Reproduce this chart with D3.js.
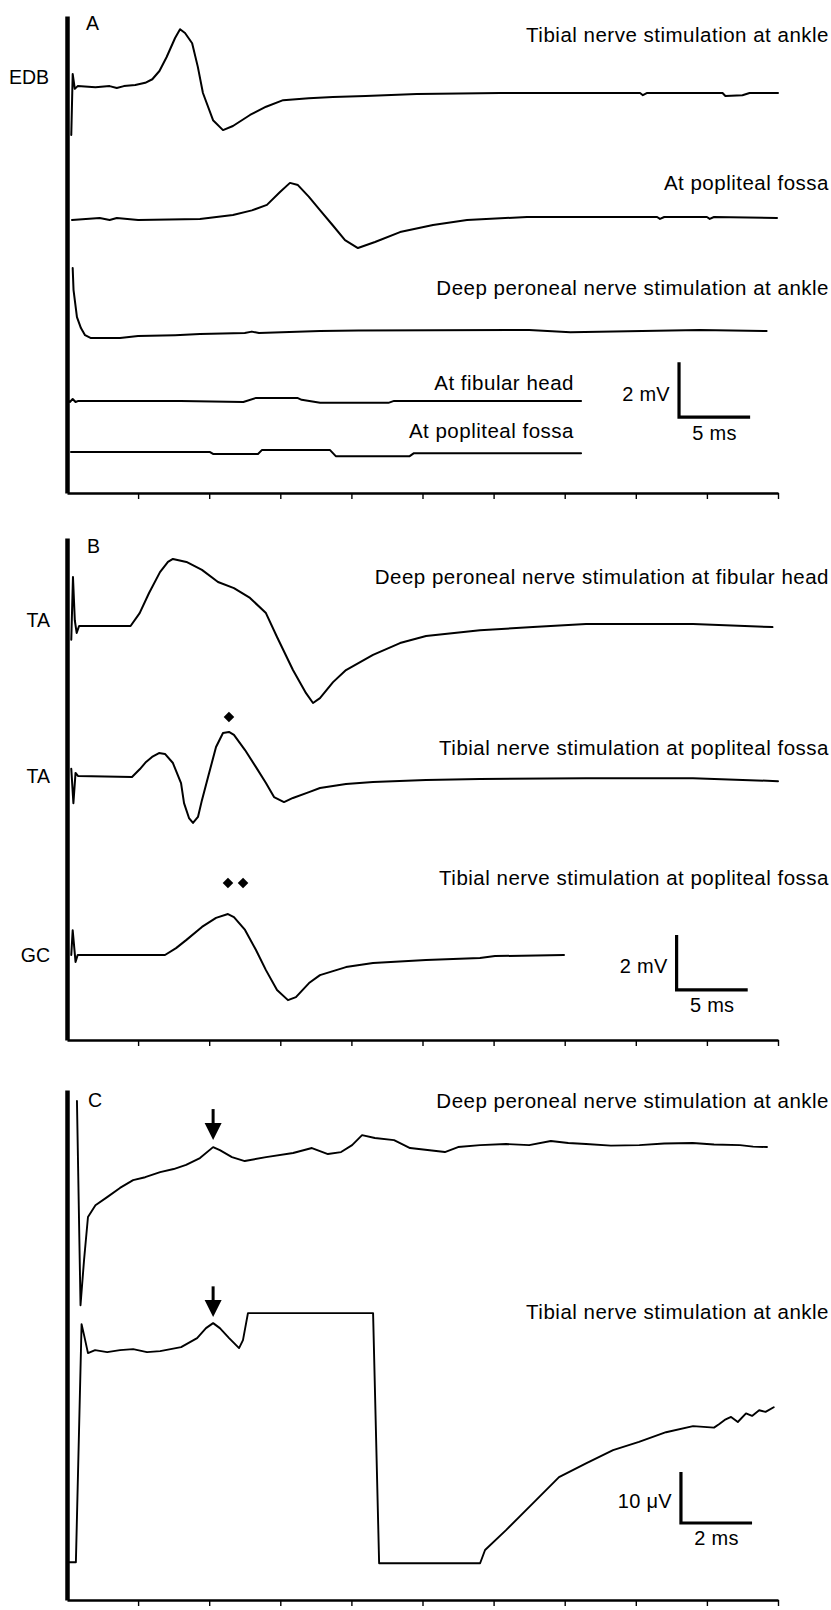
<!DOCTYPE html>
<html><head><meta charset="utf-8">
<script src="https://cdn.jsdelivr.net/npm/d3@7"></script>
<style>
body{margin:0;background:#fff}
svg{display:block}
text{font-family:"Liberation Sans",Arial,Helvetica,sans-serif;fill:#000}
</style>
</head><body>
<svg id="c" width="831" height="1610"></svg>
<script>
// ---------- DATA ----------
const panelLetters = ["A", "B", "C"];
const muscleLabelsA = ["EDB"];
const muscleLabelsB = ["TA", "TA", "GC"];
const traceLabelsA = ["Tibial nerve stimulation at ankle", "At popliteal fossa",
  "Deep peroneal nerve stimulation at ankle", "At fibular head", "At popliteal fossa"];
const traceLabelsB = ["Deep peroneal nerve stimulation at fibular head",
  "Tibial nerve stimulation at popliteal fossa", "Tibial nerve stimulation at popliteal fossa"];
const traceLabelsC = ["Deep peroneal nerve stimulation at ankle", "Tibial nerve stimulation at ankle"];
const scaleLabelsAB = ["2 mV", "5 ms"];
const scaleLabelsC = ["10 \u03BCV", "2 ms"];

// time (ms) and amplitude (mV or µV, relative to trace baseline)
const offsetsA = [14.8, 9.93, 5.89, 3.35, 1.49];     // mV
const offsetsB = [15.05, 9.56, 3.09];                // mV
const offsetsC = [89.4, 49.0];                       // µV

const traceA1 = [[0.30,-1.78],[0.40,0.44],[0.55,-0.10],[0.75,0],[2.0,-0.04],[3.0,0.0],[3.5,-0.07],[4.0,0],[4.8,0.04],[5.5,0.12],[6.0,0.25],[6.5,0.55],[7.0,1.05],[7.6,1.75],[7.95,2.07],[8.3,1.93],[8.8,1.56],[9.2,0.7],[9.56,-0.25],[10.27,-1.24],[10.97,-1.6],[11.67,-1.45],[12.87,-1.05],[14.0,-0.75],[15.2,-0.51],[17.0,-0.44],[18.7,-0.40],[21.0,-0.36],[24.6,-0.29],[30.5,-0.25],[40.3,-0.25],[40.5,-0.33],[40.8,-0.25],[46.1,-0.25],[46.3,-0.36],[47.5,-0.33],[48,-0.25],[50.0,-0.25]];
const traceA2 = [[0.35,0],[2.3,0.07],[3.0,0.0],[3.5,0.07],[5,0],[9.35,0.04],[11.67,0.18],[13.0,0.35],[14.06,0.55],[14.98,1.02],[15.68,1.35],[16.24,1.27],[17.0,0.85],[17.79,0.36],[18.7,-0.2],[19.55,-0.73],[20.46,-1.02],[21.66,-0.8],[23.42,-0.44],[25.74,-0.18],[28.13,0],[32.35,0.11],[37.5,0.11],[41.5,0.11],[41.7,0.04],[42,0.11],[45,0.11],[45.2,0.04],[45.5,0.11],[49.93,0.07]];
const traceA3 = [[0.40,2.29],[0.46,1.49],[0.70,0.51],[0.98,0.11],[1.27,-0.15],[1.65,-0.25],[3.73,-0.25],[5.0,-0.18],[7.6,-0.15],[9.35,-0.11],[12.5,-0.07],[13.0,-0.02],[13.5,-0.07],[17.8,0],[20.5,0.02],[32.5,0.04],[35.4,-0.04],[44.5,0.04],[49.2,0]];
const traceA4 = [[0,0.04],[0.2,-0.04],[0.4,0.07],[0.6,-0.04],[0.8,0],[8,0],[12.4,-0.04],[13.3,0.11],[16.2,0.11],[16.5,0.04],[17.8,-0.07],[22.6,-0.07],[23.0,0],[36.15,0]];
const traceA5 = [[0.28,0],[10.06,0],[10.27,-0.07],[13.43,-0.07],[13.7,0.07],[18.5,0.07],[18.9,-0.15],[24.1,-0.15],[24.4,-0.04],[36.15,-0.04]];

const traceB1 = [[0.30,-0.5],[0.42,1.78],[0.55,0.2],[0.68,-0.25],[0.85,0],[4.0,0],[4.47,0],[5.11,0.47],[5.77,1.2],[6.54,1.96],[7.1,2.33],[7.45,2.44],[8.4,2.33],[9.49,2.04],[10.62,1.6],[11.74,1.38],[12.87,1.02],[13.99,0.47],[14.77,-0.4],[15.89,-1.6],[16.81,-2.44],[17.3,-2.8],[17.79,-2.62],[18.71,-2.04],[19.62,-1.6],[21.52,-1.05],[23.42,-0.62],[25.25,-0.36],[29.04,-0.15],[32.77,-0.04],[36.5,0.07],[44.02,0.07],[49.61,-0.04]];
const traceB2 = [[0.30,0.3],[0.45,-0.95],[0.6,0.15],[0.77,0.04],[4.57,0],[5.13,0.29],[5.56,0.55],[5.98,0.73],[6.47,0.87],[6.89,0.84],[7.45,0.51],[8.02,-0.22],[8.23,-0.95],[8.58,-1.49],[8.86,-1.67],[9.21,-1.45],[9.49,-0.84],[9.92,0],[10.48,1.09],[10.97,1.6],[11.39,1.64],[11.74,1.53],[12.52,0.98],[13.29,0.36],[13.99,-0.22],[14.56,-0.73],[15.26,-0.91],[15.89,-0.76],[17.02,-0.55],[17.79,-0.4],[19.62,-0.25],[21.52,-0.18],[25.25,-0.11],[29.04,-0.07],[36.5,-0.04],[44.02,-0.04],[50.0,-0.15]];
const traceB3 = [[0.30,0],[0.40,0.9],[0.6,-0.25],[0.75,0],[1.27,0],[6.89,0],[7.67,0.25],[8.4,0.55],[9.49,1.02],[10.48,1.35],[11.32,1.49],[11.74,1.38],[12.52,0.91],[13.29,0.18],[13.99,-0.55],[14.77,-1.27],[15.54,-1.64],[16.1,-1.53],[17.02,-1.02],[17.79,-0.73],[19.62,-0.44],[21.52,-0.29],[25.25,-0.18],[29.04,-0.11],[30.1,-0.04],[34.95,0]];

const traceC1 = [[0.28,8.43],[0.38,-31.6],[0.48,-22.7],[0.59,-14.3],[0.8,-12.0],[1.13,-10.4],[1.49,-8.6],[1.86,-7.06],[2.2,-6.5],[2.62,-5.5],[3.0,-4.9],[3.35,-4.1],[3.74,-2.75],[4.11,-0.6],[4.3,-1.2],[4.64,-2.55],[5.0,-3.33],[5.6,-2.55],[6.36,-1.76],[6.89,-0.78],[7.34,-1.96],[7.71,-1.57],[8.02,-0.2],[8.3,1.76],[8.66,1.18],[9.2,0.78],[9.65,-0.78],[10.63,-1.57],[11.0,-0.59],[11.62,-0.2],[12.35,0],[13.0,-0.2],[13.61,0.59],[14.1,0.2],[14.6,0],[15.3,-0.3],[16.1,-0.2],[16.8,0.1],[17.6,0.2],[18.2,-0.1],[18.93,-0.2],[19.3,-0.5],[19.69,-0.59]];
const traceC2 = [[0,-41.6],[0.25,-41.6],[0.41,5.1],[0.48,2.94],[0.59,-0.59],[0.79,0],[1.13,-0.39],[1.49,0],[1.86,0.2],[2.25,-0.39],[2.62,-0.2],[3.21,0.59],[3.66,2.35],[3.91,4.31],[4.11,5.29],[4.3,4.31],[4.56,2.35],[4.84,0.39],[4.95,1.96],[5.09,7.25],[8.61,7.25],[8.78,-41.8],[11.62,-41.8],[11.76,-39.2],[12.35,-35.3],[13.11,-30.0],[13.84,-24.9],[14.6,-22.2],[15.36,-19.6],[16.09,-18.0],[16.85,-16.1],[17.61,-14.9],[18.2,-15.2],[18.35,-14.5],[18.5,-13.7],[18.68,-13.1],[18.87,-14.1],[19.1,-12.4],[19.27,-12.9],[19.47,-11.8],[19.65,-12.1],[19.88,-11.2]];

// markers: [trace index, time, amplitude]
const diamondsB = [[1, 11.39, 2.18], [2, 11.32, 2.62], [2, 12.38, 2.62]];
// arrows: [trace index, time, tail amplitude, tip amplitude]
const arrowsC = [[0, 4.11, 6.86, 0.78], [1, 4.11, 12.5, 6.47]];

// calibration bars: [time at corner, amplitude at corner, ms length, amplitude length]
const calA = [43.04, 2.76, 5, 2];
const calB = [42.87, 1.82, 5, 2];
const calC = [17.27, 15.1, 2, 10];

// ---------- DRAW ----------
const svg = d3.select("#c");
const X0 = 67, X1 = 778;
const LFS = 20.5, PFS = 19.5, SFS = 20;

function makePanel(top, axisY, xMax, yMax, step) {
  const x = d3.scaleLinear().domain([0, xMax]).range([X0, X1]);
  const y = d3.scaleLinear().domain([0, yMax]).range([axisY, top]);
  const g = svg.append("g");
  const ax = g.append("g").attr("transform", `translate(0,${axisY})`)
    .call(d3.axisBottom(x).tickValues(d3.range(step, xMax + step / 2, step))
      .tickSize(6).tickSizeOuter(0).tickFormat(""));
  ax.select(".domain").attr("stroke", "#000").attr("stroke-width", 2.6);
  ax.selectAll(".tick line").attr("stroke", "#000").attr("stroke-width", 1.4);
  const ay = g.append("g").attr("transform", `translate(${X0},0)`)
    .call(d3.axisLeft(y).tickValues([]).tickSizeOuter(0));
  ay.select(".domain").attr("stroke", "#000").attr("stroke-width", 4.5);
  return {x, y, g};
}

function drawTrace(p, data, off, w) {
  const line = d3.line().x(d => p.x(d[0])).y(d => p.y(off + d[1]));
  p.g.append("path").datum(data).attr("d", line)
    .attr("fill", "none").attr("stroke", "#000").attr("stroke-width", w || 2)
    .attr("stroke-linejoin", "round").attr("stroke-linecap", "round");
}

function txt(g, x, y, s, anchor, fs, ls) {
  g.append("text").attr("x", x).attr("y", y).attr("text-anchor", anchor || "start")
    .attr("font-size", fs).attr("letter-spacing", ls || 0).text(s);
}

function drawCal(p, cal, labels) {
  const [t, v, dt, dv] = cal;
  const xa = p.x(t), ya = p.y(v), yb = p.y(v + dv), xb = p.x(t + dt);
  p.g.append("path").attr("d", `M${xa},${yb}V${ya}H${xb}`)
    .attr("fill", "none").attr("stroke", "#000").attr("stroke-width", 3.2);
  txt(p.g, xa - 9, (ya + yb) / 2 + 11, labels[0], "end", SFS, 0.3);
  txt(p.g, (xa + xb) / 2, ya + 22.5, labels[1], "middle", SFS, 0.3);
}

// Panel A
const pA = makePanel(16, 493, 50, 17.35, 5);
[traceA1, traceA2, traceA3, traceA4, traceA5].forEach((d, i) => drawTrace(pA, d, offsetsA[i], 2));
txt(pA.g, 86, 30, panelLetters[0], "start", PFS);
txt(pA.g, 49, 84, muscleLabelsA[0], "end", PFS);
txt(pA.g, 829, 41.5, traceLabelsA[0], "end", LFS, 0.5);
txt(pA.g, 829, 189.5, traceLabelsA[1], "end", LFS, 0.5);
txt(pA.g, 829, 295, traceLabelsA[2], "end", LFS, 0.5);
txt(pA.g, 574, 390, traceLabelsA[3], "end", LFS, 0.5);
txt(pA.g, 574, 438, traceLabelsA[4], "end", LFS, 0.5);
drawCal(pA, calA, scaleLabelsAB);

// Panel B
const pB = makePanel(538, 1040, 50, 18.25, 5);
[traceB1, traceB2, traceB3].forEach((d, i) => drawTrace(pB, d, offsetsB[i], 2));
txt(pB.g, 87, 553, panelLetters[1], "start", PFS);
txt(pB.g, 50, 627, muscleLabelsB[0], "end", PFS);
txt(pB.g, 50, 783, muscleLabelsB[1], "end", PFS);
txt(pB.g, 50, 962, muscleLabelsB[2], "end", PFS);
txt(pB.g, 829, 584, traceLabelsB[0], "end", LFS, 0.5);
txt(pB.g, 829, 755, traceLabelsB[1], "end", LFS, 0.5);
txt(pB.g, 829, 885, traceLabelsB[2], "end", LFS, 0.5);
const diamond = d3.symbol(d3.symbolSquare, 56);
pB.g.selectAll(".dm").data(diamondsB).join("path")
  .attr("d", diamond())
  .attr("transform", d => `translate(${pB.x(d[1])},${pB.y(offsetsB[d[0]] + d[2])}) rotate(45)`)
  .attr("fill", "#000");
drawCal(pB, calB, scaleLabelsAB);

// Panel C
const pC = makePanel(1090, 1600, 20, 100, 2);
[traceC1, traceC2].forEach((d, i) => drawTrace(pC, d, offsetsC[i], 1.9));
txt(pC.g, 88, 1107, panelLetters[2], "start", PFS);
txt(pC.g, 829, 1108, traceLabelsC[0], "end", LFS, 0.5);
txt(pC.g, 829, 1319, traceLabelsC[1], "end", LFS, 0.5);
arrowsC.forEach(a => {
  const xx = pC.x(a[1]);
  const y0 = pC.y(offsetsC[a[0]] + a[2]);
  const y1 = pC.y(offsetsC[a[0]] + a[3]);
  const hl = 17, hw = 8.5;
  pC.g.append("line").attr("x1", xx).attr("x2", xx).attr("y1", y0).attr("y2", y1 - hl + 1)
    .attr("stroke", "#000").attr("stroke-width", 3);
  pC.g.append("path").attr("d", `M${xx - hw},${y1 - hl}L${xx + hw},${y1 - hl}L${xx},${y1}Z`)
    .attr("fill", "#000");
});
drawCal(pC, calC, scaleLabelsC);
</script>
</body></html>
